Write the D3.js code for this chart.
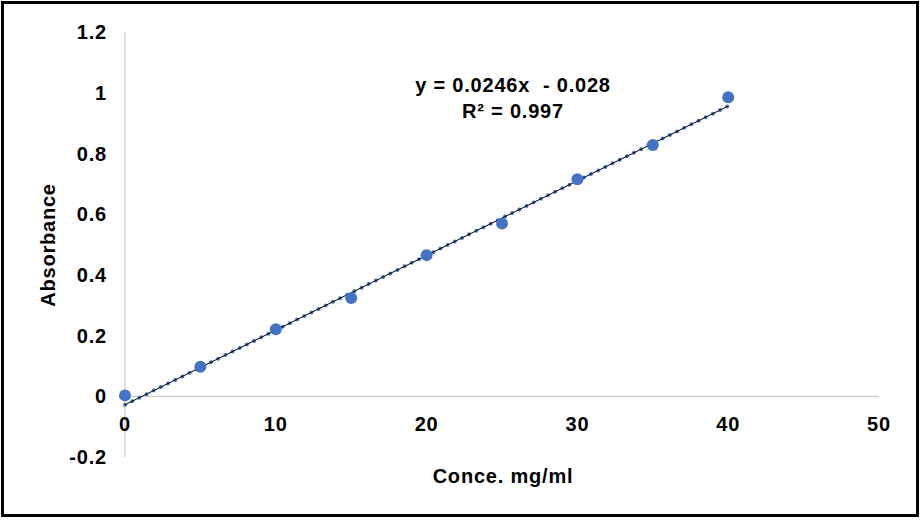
<!doctype html>
<html lang="en">
  <head>
    <meta charset="utf-8">
    <title>Absorbance calibration</title>
    <script src="https://d3js.org/d3.v7.min.js"></script>
    <style>
      body { margin: 0; background: #fff; }
      text { font-family: "Liberation Sans", Arial, sans-serif; font-weight: bold; fill: #000; font-size: 20px; letter-spacing: 0.8px; }
    </style>
  </head>
  <body>
    <div id="my_dataviz"></div>

    <script>
      // measured points
      var conc = [0, 5, 10, 15, 20, 25, 30, 35, 40];
      var absorbance = [0.003, 0.097, 0.221, 0.324, 0.465, 0.569, 0.715, 0.828, 0.985];

      var xTicks = [0, 10, 20, 30, 40, 50];
      var yTicks = [-0.2, 0, 0.2, 0.4, 0.6, 0.8, 1, 1.2];
      var yTickLabels = ["-0.2", "0", "0.2", "0.4", "0.6", "0.8", "1", "1.2"];

      // trendline y = 0.0246x - 0.028
      var slope = 0.0246, intercept = -0.028;
      var trendX = [0, 40];

      var width = 922, height = 520;

      var svg = d3.select("#my_dataviz")
        .append("svg")
          .attr("width", width)
          .attr("height", height);

      // outer frame
      svg.append("rect")
        .attr("x", 2.5).attr("y", 2.5)
        .attr("width", 915).attr("height", 513)
        .attr("fill", "none")
        .attr("stroke", "#000")
        .attr("stroke-width", 3);

      var x = d3.scaleLinear().domain([0, 50]).range([125, 879]);
      var y = d3.scaleLinear().domain([-0.2, 1.2]).range([457, 32]);

      // vertical axis line at x = 0
      svg.append("line")
        .attr("x1", x(0)).attr("x2", x(0))
        .attr("y1", y(1.2)).attr("y2", y(-0.2))
        .attr("stroke", "#bfbfbf").attr("stroke-width", 1);

      // horizontal axis line at y = 0
      svg.append("line")
        .attr("x1", x(0)).attr("x2", x(50))
        .attr("y1", y(0)).attr("y2", y(0))
        .attr("stroke", "#bfbfbf").attr("stroke-width", 1);

      // y tick labels
      svg.append("g").selectAll("text")
        .data(yTicks)
        .enter().append("text")
          .attr("x", 107)
          .attr("y", function(d) { return y(d); })
          .attr("dy", "0.36em")
          .attr("text-anchor", "end")
          .text(function(d, i) { return yTickLabels[i]; });

      // x tick labels
      svg.append("g").selectAll("text")
        .data(xTicks)
        .enter().append("text")
          .attr("x", function(d) { return x(d); })
          .attr("y", 424)
          .attr("dy", "0.36em")
          .attr("text-anchor", "middle")
          .text(function(d) { return d; });

      // trendline: blue round dots under a thin black line
      var trendLine = d3.line()
        .x(function(d) { return x(d); })
        .y(function(d) { return y(slope * d + intercept); });

      svg.append("path")
        .datum(trendX)
        .attr("fill", "none")
        .attr("stroke", "#4472c4")
        .attr("stroke-width", 4)
        .attr("stroke-linecap", "round")
        .attr("stroke-dasharray", "0,8")
        .attr("d", trendLine);

      svg.append("path")
        .datum(trendX)
        .attr("fill", "none")
        .attr("stroke", "#000")
        .attr("stroke-width", 1)
        .attr("d", trendLine);

      // markers
      svg.append("g").selectAll("circle")
        .data(conc)
        .enter().append("circle")
          .attr("cx", function(d) { return x(d); })
          .attr("cy", function(d, i) { return y(absorbance[i]); })
          .attr("r", 6)
          .attr("fill", "#4472c4");

      // equation
      svg.append("text")
        .attr("x", 513).attr("y", 85)
        .attr("dy", "0.36em")
        .attr("text-anchor", "middle")
        .attr("xml:space", "preserve")
        .style("white-space", "pre")
        .text("y = 0.0246x  - 0.028");

      svg.append("text")
        .attr("x", 513).attr("y", 111)
        .attr("dy", "0.36em")
        .attr("text-anchor", "middle")
        .text("R² = 0.997");

      // axis titles
      svg.append("text")
        .attr("transform", "translate(48,245) rotate(-90)")
        .attr("dy", "0.36em")
        .attr("text-anchor", "middle")
        .text("Absorbance");

      svg.append("text")
        .attr("x", 503).attr("y", 476)
        .attr("dy", "0.36em")
        .attr("text-anchor", "middle")
        .text("Conce. mg/ml");
    </script>
  </body>
</html>
